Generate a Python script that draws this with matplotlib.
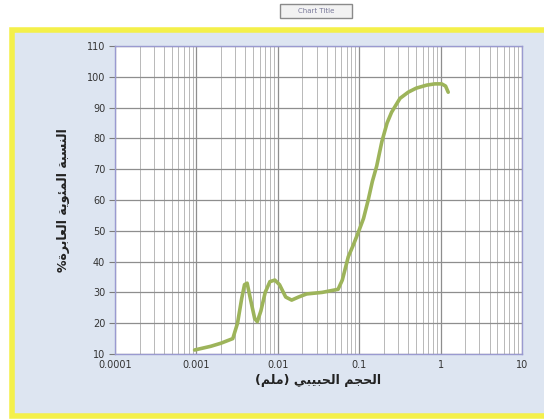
import matplotlib
matplotlib.use("Agg")
import matplotlib.pyplot as plt
from matplotlib.patches import Rectangle
from matplotlib.ticker import LogLocator, FixedLocator, NullFormatter

# Grain-size distribution (particle size in mm vs percent passing)
grain_size_mm = [0.00095, 0.0015, 0.002, 0.0028, 0.0032, 0.0036, 0.0039, 0.0042,
                 0.0046, 0.0052, 0.0056, 0.0062, 0.0070, 0.0080, 0.0092, 0.0105,
                 0.0125, 0.0148, 0.018, 0.0226, 0.035, 0.055, 0.062, 0.0735,
                 0.085, 0.0975, 0.113, 0.129, 0.145, 0.164, 0.19, 0.22, 0.25,
                 0.317, 0.40, 0.50, 0.675, 0.85, 1.03, 1.15, 1.24]
percent_passing = [11.3, 12.5, 13.5, 15.0, 20.0, 28.0, 32.5, 33.0,
                   28.0, 21.5, 20.5, 24.0, 30.0, 33.5, 34.0, 32.5,
                   28.5, 27.5, 28.5, 29.5, 30.0, 31.0, 34.0, 41.6,
                   45.5, 49.5, 54.0, 60.0, 66.0, 71.0, 79.0, 85.0, 88.5,
                   93.0, 95.0, 96.3, 97.3, 97.7, 97.7, 97.0, 95.0]

x_ticks = [0.0001, 0.001, 0.01, 0.1, 1, 10]
x_tick_labels = ["0.0001", "0.001", "0.01", "0.1", "1", "10"]
y_ticks = list(range(10, 111, 10))

x_title = "الحجم الحبيبي (ملم)"
y_title = "النسبة المئوية العابرة%"
box_title = "Chart Title"

# --- minimal Arabic shaping: contextual forms + visual (RTL) order ---
FORMS = {  # isolated, final, initial, medial
    "ا": ("\uFE8D", "\uFE8E", None, None),
    "ب": ("\uFE8F", "\uFE90", "\uFE91", "\uFE92"),
    "ة": ("\uFE93", "\uFE94", None, None),
    "ج": ("\uFE9D", "\uFE9E", "\uFE9F", "\uFEA0"),
    "ح": ("\uFEA1", "\uFEA2", "\uFEA3", "\uFEA4"),
    "ر": ("\uFEAD", "\uFEAE", None, None),
    "س": ("\uFEB1", "\uFEB2", "\uFEB3", "\uFEB4"),
    "ع": ("\uFEC9", "\uFECA", "\uFECB", "\uFECC"),
    "ل": ("\uFEDD", "\uFEDE", "\uFEDF", "\uFEE0"),
    "م": ("\uFEE1", "\uFEE2", "\uFEE3", "\uFEE4"),
    "ن": ("\uFEE5", "\uFEE6", "\uFEE7", "\uFEE8"),
    "و": ("\uFEED", "\uFEEE", None, None),
    "ي": ("\uFEF1", "\uFEF2", "\uFEF3", "\uFEF4"),
    "ئ": ("\uFE89", "\uFE8A", "\uFE8B", "\uFE8C"),
}


def joins_next(ch):
    return ch in FORMS and FORMS[ch][2] is not None


def shape_arabic(text):
    out = []
    for i, ch in enumerate(text):
        if ch not in FORMS:
            out.append(ch)
            continue
        prev = text[i - 1] if i > 0 else ""
        nxt = text[i + 1] if i + 1 < len(text) else ""
        left = joins_next(prev)
        right = joins_next(ch) and nxt in FORMS
        iso, fin, ini, med = FORMS[ch]
        if left and right:
            out.append(med)
        elif left:
            out.append(fin)
        elif right:
            out.append(ini)
        else:
            out.append(iso)
    visual = "".join(reversed(out))
    return visual.translate(str.maketrans("()", ")("))


W, H = 544, 420
fig = plt.figure(figsize=(W / 100, H / 100), dpi=100)
fig.patch.set_facecolor("white")

# chart frame: pale blue fill with a yellow border
frame = Rectangle((12 / W, 1 - 416 / H), 540 / W, 386 / H, transform=fig.transFigure,
                  facecolor="#dde5f1", edgecolor="#f4f04a", linewidth=4, zorder=-2)
fig.patches.append(frame)

# small title box above the frame
tbox = Rectangle((280 / W, 1 - 18 / H), 72 / W, 14 / H, transform=fig.transFigure,
                 facecolor="#f2f2f2", edgecolor="#8a8a8a", linewidth=1, zorder=-1)
fig.patches.append(tbox)
fig.text(316 / W, 1 - 11 / H, box_title, ha="center", va="center",
         fontsize=5, color="#7a7a9a", family="DejaVu Sans")

ax = fig.add_axes([115 / W, 1 - 354 / H, 407 / W, 308 / H])
ax.set_zorder(2)
ax.set_facecolor("white")
ax.set_xscale("log")
ax.set_xlim(0.0001, 10)
ax.set_ylim(10, 110)

ax.xaxis.set_major_locator(FixedLocator(x_ticks))
ax.set_xticklabels(x_tick_labels)
ax.xaxis.set_minor_locator(LogLocator(base=10, subs=range(2, 10), numticks=20))
ax.xaxis.set_minor_formatter(NullFormatter())
ax.set_yticks(y_ticks)

ax.grid(which="major", axis="both", color="#8e8e8e", linewidth=0.9)
ax.grid(which="minor", axis="x", color="#b8b8b8", linewidth=0.7)
ax.set_axisbelow(True)

for s in ax.spines.values():
    s.set_color("#9a9ad0")
    s.set_linewidth(1.0)

ax.tick_params(axis="x", which="both", length=0, pad=4, labelsize=7, labelcolor="#333333")
ax.tick_params(axis="y", which="major", length=4, color="#7a7a7a", pad=3,
               labelsize=7, labelcolor="#333333")

ax.plot(grain_size_mm, percent_passing, color="#9db45a", linewidth=2.6,
        solid_capstyle="round", solid_joinstyle="round", zorder=3)

ax.set_xlabel(shape_arabic(x_title), fontsize=9, fontweight="bold",
              family="DejaVu Sans", color="#222222", labelpad=3)
ax.set_ylabel(shape_arabic(y_title), fontsize=9, fontweight="bold",
              family="DejaVu Sans", color="#222222", labelpad=12)

fig.savefig("out.png", dpi=100, facecolor=fig.get_facecolor())
